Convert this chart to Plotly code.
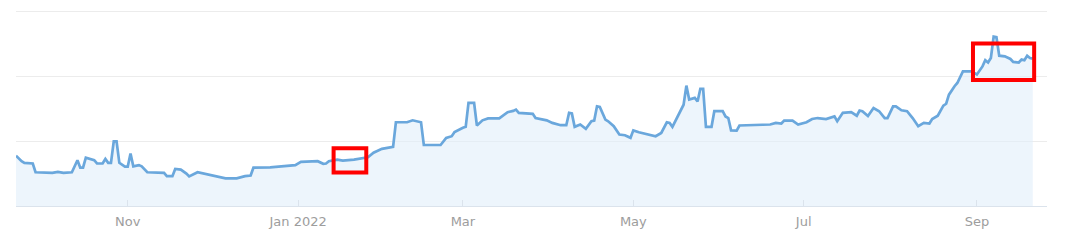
import pandas as pd
import plotly.graph_objects as go

# ---- data (days since 2021-09-22, value) ----
start_date = "2021-09-22"
day_offsets = [
    0, 2, 3, 6, 7, 13, 15, 16, 17, 20, 22, 23, 24, 25, 27, 28, 29, 31, 32, 33,
    34, 35, 36, 37, 39, 40, 41, 42, 44, 45, 47, 53, 54, 56, 57, 59, 61, 62, 65, 67,
    70, 72, 75, 79, 82, 84, 85, 91, 95, 100, 102, 105, 108, 110, 111, 112, 115, 117, 121, 126,
    128, 131, 135, 136, 140, 142, 144, 145, 146, 152, 154, 156, 157, 158, 160, 161, 162, 164, 165, 167,
    169, 173, 175, 176, 178, 179, 180, 185, 186, 187, 188, 190, 192, 195, 197, 198, 199, 200, 202, 204,
    206, 207, 208, 209, 211, 212, 214, 216, 218, 220, 221, 223, 229, 231, 233, 234, 235, 237, 239, 240,
    241, 243, 244, 245, 246, 247, 249, 250, 253, 254, 255, 256, 258, 259, 266, 270, 272, 274, 275, 278,
    280, 283, 285, 287, 290, 293, 294, 296, 299, 301, 302, 303, 305, 307, 309, 311, 312, 314, 315, 317,
    319, 321, 323, 325, 327, 328, 330, 332, 333, 334, 336, 337, 339, 342, 344, 346, 347, 348, 349, 350,
    351, 352, 354, 356, 357, 359, 360, 361, 362, 363, 364,
]
values = [
    15.5, 13.8, 13.3, 13.1, 10.4, 10.2, 10.5, 10.4, 10.2, 10.4, 14.1, 11.8, 11.8, 14.9, 14.5, 14.1, 13.1, 13.1, 14.5, 13.3,
    13.3, 19.9, 19.9, 13.3, 12.1, 12.1, 16.2, 12.2, 12.6, 12.2, 10.4, 10.2, 9.2, 9.2, 11.4, 11.2, 10.0, 9.1, 10.4, 10.0,
    9.4, 9.0, 8.5, 8.5, 9.2, 9.4, 11.8, 11.9, 12.2, 12.6, 13.6, 13.8, 13.8, 13.0, 13.1, 13.8, 14.3, 14.0, 14.3, 15.0,
    16.4, 17.6, 18.2, 25.8, 25.8, 26.4, 26.1, 25.8, 18.8, 18.8, 21.0, 21.5, 22.8, 23.3, 24.1, 24.4, 31.8, 31.8, 24.8, 26.4,
    27.0, 27.0, 28.2, 28.9, 29.3, 29.7, 28.7, 28.4, 27.1, 26.9, 26.6, 26.4, 25.6, 24.9, 24.9, 28.7, 28.5, 24.4, 25.1, 23.8,
    26.1, 26.3, 30.7, 30.5, 26.6, 26.1, 24.6, 22.0, 21.8, 21.0, 23.3, 22.7, 21.5, 22.5, 25.8, 25.6, 24.4, 27.6, 31.2, 37.1,
    32.8, 33.3, 32.2, 36.1, 36.1, 24.4, 24.4, 29.2, 29.2, 27.6, 27.1, 23.3, 23.2, 24.8, 24.9, 25.1, 25.6, 25.4, 26.3, 26.3,
    25.1, 25.8, 26.8, 27.1, 26.8, 27.6, 26.1, 28.7, 28.9, 27.8, 29.4, 29.2, 27.7, 30.2, 29.2, 27.1, 27.1, 30.7, 30.7, 29.5,
    29.2, 27.1, 24.6, 25.6, 25.4, 26.8, 27.8, 30.9, 31.5, 34.3, 36.9, 37.9, 41.5, 41.5, 40.5, 43.0, 44.9, 44.2, 45.6, 52.2,
    52.0, 46.3, 46.1, 45.3, 44.4, 44.2, 45.1, 44.9, 46.3, 45.6, 45.4,
]

tick_dates = ["2021-11-01", "2022-01-01", "2022-03-01", "2022-05-01", "2022-07-01", "2022-09-01"]
tick_labels = ["Nov", "Jan 2022", "Mar", "May", "Jul", "Sep"]

# highlight boxes: (start day, end day, low value, high value)
box_day_start = [113.7, 342.6]
box_day_end = [125.4, 364.5]
box_low = [10.3, 38.8]
box_high = [17.8, 50.1]

x_range_days = [0, 369.1]
y_range = [0, 61]

start = pd.Timestamp(start_date)
dates = start + pd.to_timedelta(day_offsets, unit="D")

fig = go.Figure()
fig.add_trace(go.Scatter(
    x=dates, y=values, mode="lines",
    line=dict(color="#6aa7dc", width=2.7),
    fill="tozeroy", fillcolor="rgba(225,238,250,0.6)",
    hoverinfo="skip",
))

for d0, d1, lo, hi in zip(box_day_start, box_day_end, box_low, box_high):
    fig.add_shape(
        type="rect", xref="x", yref="y",
        x0=start + pd.Timedelta(days=d0), x1=start + pd.Timedelta(days=d1),
        y0=lo, y1=hi,
        line=dict(color="#ff0000", width=4),
        fillcolor="rgba(0,0,0,0)",
    )

fig.update_layout(
    width=1078, height=246,
    margin=dict(l=16, r=31, t=8, b=40),
    paper_bgcolor="white", plot_bgcolor="white",
    showlegend=False,
)
fig.update_xaxes(
    range=[start + pd.Timedelta(days=x_range_days[0]), start + pd.Timedelta(days=x_range_days[1])],
    tickvals=pd.to_datetime(tick_dates), ticktext=tick_labels,
    showgrid=False, showline=True, linecolor="#dbe3ec", linewidth=1,
    ticks="inside", ticklen=6, tickcolor="#dbe3ec",
    tickfont=dict(family="DejaVu Sans", size=13, color="#9d9d9d"),
    ticklabelstandoff=3,
    zeroline=False,
)
fig.update_yaxes(
    range=y_range, dtick=20, showticklabels=False,
    showgrid=True, gridcolor="#ececec", gridwidth=1,
    zeroline=False, showline=False,
)

fig.write_html("out.html")
